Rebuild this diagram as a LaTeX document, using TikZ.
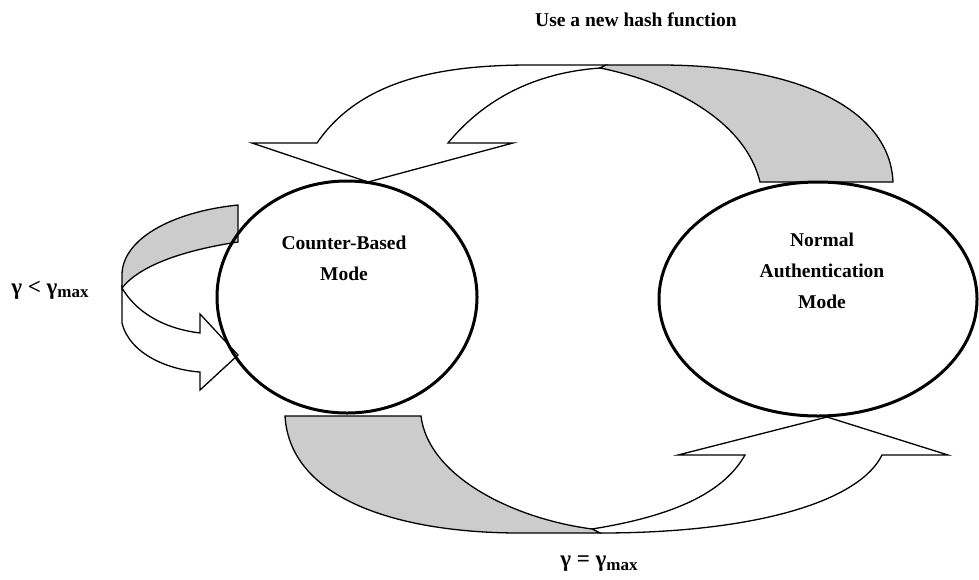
\documentclass[tikz,border=0pt]{standalone}
\usepackage{fontspec}
\setmainfont{Liberation Serif}
\usetikzlibrary{shapes.geometric}
\definecolor{bandgrey}{RGB}{204,204,204}
\tikzset{
  modeellipse/.style={ellipse,draw=black,line width=3pt,inner sep=0pt},
  band/.style={draw=black,line width=1.3pt,line join=miter},
  whiteband/.style={band,fill=white},
  greyband/.style={band,fill=bandgrey},
  lbl/.style={font=\bfseries\fontsize{19.5}{31}\selectfont,align=center,inner sep=0pt},
  glbl/.style={font=\bfseries\fontsize{23}{28}\selectfont,inner sep=0pt},
}
\newcommand{\subm}{\raisebox{-0.3ex}{\fontsize{17}{17}\selectfont max}}
\begin{document}
\begin{tikzpicture}[x=1pt,y=-1pt]
\useasboundingbox (0,0) rectangle (979,579);
% top arrow: white part
\draw[whiteband] (606,65) -- (530,65) .. controls (440,65) and (360,80) .. (317,143)
  -- (252,143) -- (368,182) -- (513,143) -- (448,143)
  .. controls (490,92) and (545,72) .. (600,68) -- cycle;
% top arrow: grey part
\draw[greyband] (600,68) -- (606,65) -- (660,65) .. controls (800,65) and (890,110) .. (893,182)
  -- (760,182) .. controls (745,120) and (670,82) .. (600,68) -- cycle;
% bottom arrow: white part
\draw[whiteband] (592,529) -- (600,533) .. controls (760,533) and (860,500) .. (882,455)
  -- (948,455) -- (827,417) -- (678,455) -- (745,455)
  .. controls (725,490) and (680,515) .. (592,529) -- cycle;
% bottom arrow: grey part
\draw[greyband] (285,416) -- (421,416) .. controls (428,475) and (510,518) .. (592,529)
  -- (600,533) -- (520,533) .. controls (400,533) and (290,500) .. (285,416) -- cycle;
% left loop arrow: white part
\draw[whiteband] (122,285) -- (122,323) .. controls (130,355) and (170,370) .. (200,372)
  -- (200,390) -- (238,355) -- (200,314) -- (200,333)
  .. controls (160,328) and (135,310) .. (122,288) -- cycle;
% left loop arrow: grey part
\draw[greyband] (238,205) -- (238,242) .. controls (185,250) and (140,265) .. (122,288)
  -- (122,275) .. controls (122,240) and (170,212) .. (238,205) -- cycle;
% modes
\node[modeellipse,minimum width=260pt,minimum height=232pt] (cb) at (347,297) {};
\node[modeellipse,minimum width=318pt,minimum height=234pt] (na) at (818,299) {};
\node[lbl] (cbt) at (344,258) {Counter-Based\\Mode};
\node[lbl] (nat) at (822,271) {Normal\\Authentication\\Mode};
\node[lbl] (hash) at (636,20) {Use a new hash function};
\node[glbl] (lt) at (50,290) {γ < γ\subm};
\node[glbl] (eq) at (599,564) {γ = γ\subm};
\end{tikzpicture}
\end{document}
